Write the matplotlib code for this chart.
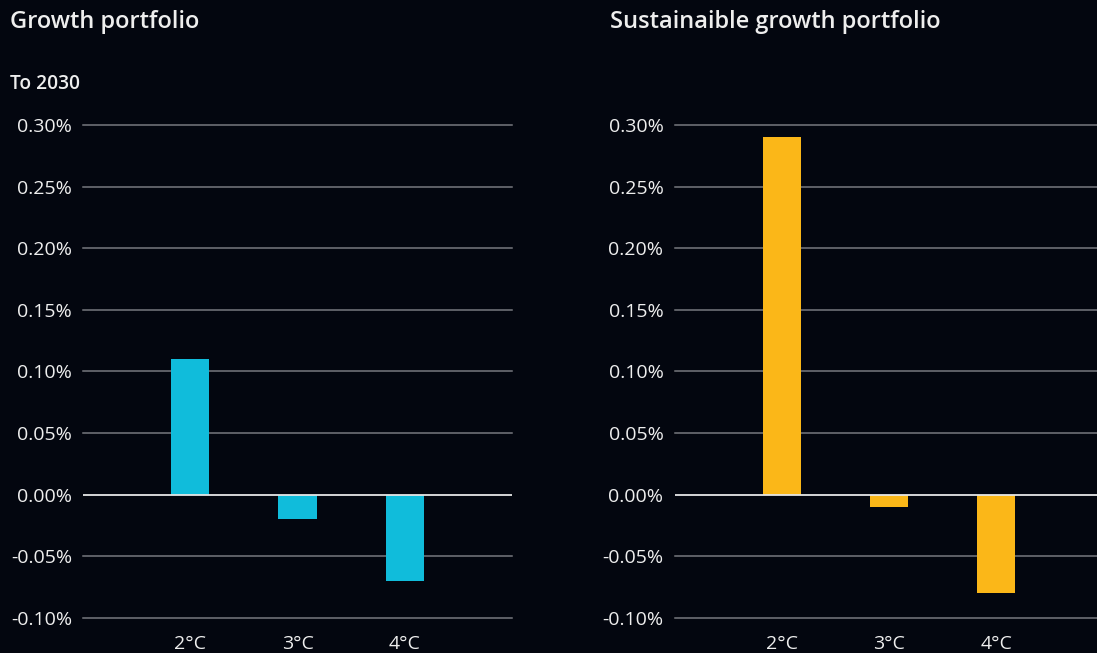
import matplotlib
matplotlib.use("Agg")
import matplotlib.pyplot as plt
from matplotlib.ticker import FuncFormatter

plt.rcParams.update({
    "font.family": ["Open Sans", "Noto Sans", "DejaVu Sans"],
    "font.size": 14,
})

BG = "#03060f"
TXT = "#eeeeee"
GRID = "#77787e"

scenarios = ["2°C", "3°C", "4°C"]
growth = [0.11, -0.02, -0.07]
sustainable = [0.29, -0.01, -0.08]
yticks = [-0.10, -0.05, 0.00, 0.05, 0.10, 0.15, 0.20, 0.25, 0.30]

fig = plt.figure(figsize=(10.97, 6.53), dpi=100, facecolor=BG)


def panel(rect, vals, color):
    ax = fig.add_axes(rect, facecolor=BG)
    x = range(len(vals))
    for t in yticks:
        if t == 0:
            continue
        ax.axhline(t, color=GRID, lw=1.1, zorder=0, clip_on=False)
    ax.bar(x, vals, width=0.355, color=color, zorder=2)
    ax.axhline(0, color="#e6e6e6", lw=1.3, zorder=3)
    ax.set_xlim(-1, 3)
    ax.set_ylim(-0.10, 0.30)
    ax.set_yticks(yticks)
    ax.yaxis.set_major_formatter(FuncFormatter(lambda v, _: f"{v:.2f}%"))
    ax.set_xticks(list(x))
    ax.set_xticklabels(scenarios)
    ax.tick_params(length=0, colors=TXT, labelsize=14)
    ax.tick_params(axis="y", pad=8)
    ax.tick_params(axis="x", pad=12)
    for s in ax.spines.values():
        s.set_visible(False)
    return ax


panel([0.0757, 0.0536, 0.391, 0.755], growth, "#10bcdb")
panel([0.6149, 0.0536, 0.391, 0.755], sustainable, "#fbb718")

fig.text(0.009, 0.966, "Growth portfolio", color=TXT, fontsize=17,
         fontweight="semibold", va="center", ha="left")
fig.text(0.556, 0.966, "Sustainaible growth portfolio", color=TXT, fontsize=17,
         fontweight="semibold", va="center", ha="left")
fig.text(0.009, 0.871, "To 2030", color=TXT, fontsize=13.8,
         fontweight="semibold", va="center", ha="left")

fig.savefig("out.png", facecolor=BG)
